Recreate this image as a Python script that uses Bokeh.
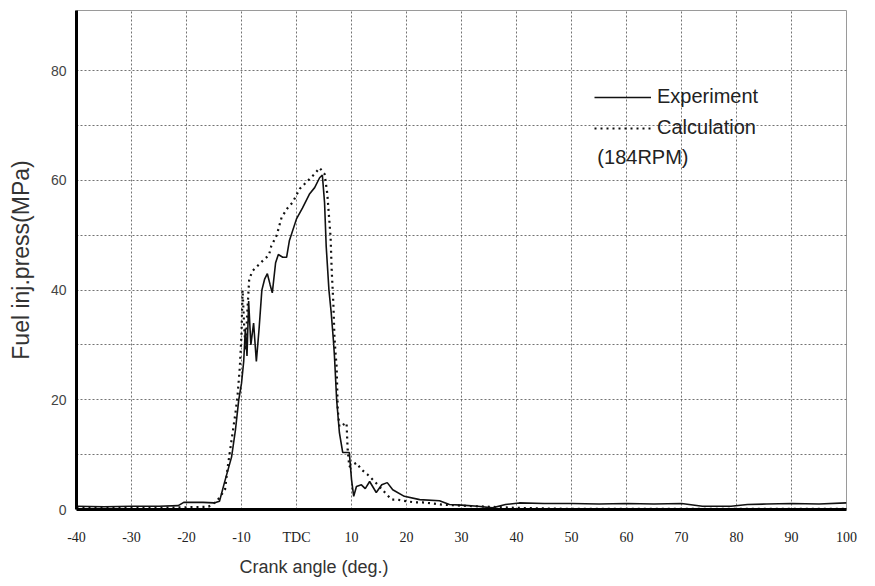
from bokeh.plotting import figure
from bokeh.models import Range1d, FixedTicker, Legend, LegendItem, Label, Title
from bokeh.embed import file_html
from bokeh.resources import INLINE

# Crank angle (deg.) and fuel injection pressure (MPa)
exp_x = [-40, -35, -30, -25, -21.5, -20.5, -17, -15, -14, -13.1, -11.8, -11.1, -10.5,
         -10.0, -9.6, -9.3, -9.0, -8.7, -8.3, -7.8, -7.3, -6.8, -6.3, -5.8, -5.3, -4.8,
         -4.4, -3.8, -3.3, -2.5, -1.8, -1.3, 0.0, 1.1, 2.4, 3.3, 4.2, 4.7, 5.1, 5.4,
         5.9, 6.3, 6.7, 6.9, 7.3, 7.8, 8.4, 9.6, 10.0, 10.4, 10.9, 11.8, 12.5, 13.3,
         14.5, 15.5, 16.5, 17.5, 19.6, 22.4, 26, 27.8, 30, 33, 35.6, 38, 40.5, 45, 50,
         55, 60, 65, 70, 73.8, 79, 82, 85.5, 90, 95, 100]
exp_y = [0.6, 0.5, 0.6, 0.6, 0.7, 1.3, 1.3, 1.2, 1.5, 4.9, 9.6, 14.5, 20,
         23, 27, 33, 28, 38, 30, 34, 27, 33, 40, 42, 43, 41,
         39.5, 45, 46.5, 46, 46, 49, 53, 55, 57.6, 58.7, 60.5, 61, 56, 48,
         40, 36, 31, 28, 20, 14, 10.4, 10.4, 5.5, 2.4, 4.2, 4.5, 3.8, 5.1,
         3.1, 4.5, 4.9, 3.6, 2.4, 1.8, 1.6, 0.9, 0.8, 0.6, 0.3, 0.9, 1.2, 1.1, 1.1,
         1.0, 1.1, 1.0, 1.1, 0.6, 0.6, 0.9, 1.0, 1.1, 1.0, 1.2]

calc_x = [-40, -30, -25, -20, -16, -14.5, -13, -12.5, -11.8, -11.1, -10.7, -10.3,
          -10.0, -9.8, -9.5, -9.2, -9.0, -8.6, -8.0, -7.0, -6.0, -5.0, -4.6, -3.6,
          -2.7, -1.6, -0.7, 0.6, 2.1, 3.3, 4.2, 5.1, 5.6, 6.2, 6.4, 6.7, 6.9, 7.1,
          7.3, 7.5, 7.8, 9.1, 9.3, 9.6, 10.9, 11.8, 12.9, 14.2, 15.6, 17.3, 18.4,
          20.0, 21.5, 22.9, 24.7, 26.4, 30, 35, 40, 50, 100]
calc_y = [0.3, 0.3, 0.3, 0.4, 0.5, 1.5, 3.6, 7.8, 12.7, 17.6, 21, 26,
          32, 40, 33, 29, 35, 42, 43.5, 44.5, 45.5, 46.4, 48, 50,
          53.3, 55, 56, 58.5, 60, 61.2, 62.3, 61.2, 57.6, 49.6, 43.6, 37.6, 31.5, 28.5,
          26, 18.2, 15.1, 15.8, 10.9, 7.8, 8.5, 7.3, 6.4, 5.1, 3.6, 1.8, 1.8,
          1.5, 1.3, 1.3, 1.1, 0.9, 0.7, 0.5, 0.3, 0.1, 0.1]

x_ticks = [-40, -30, -20, -10, 0, 10, 20, 30, 40, 50, 60, 70, 80, 90, 100]
x_tick_labels = ["-40", "-30", "-20", "-10", "TDC", "10", "20", "30", "40", "50",
                 "60", "70", "80", "90", "100"]
y_ticks = [0, 20, 40, 60, 80]
grid_x = [-30, -20, -10, 0, 10, 20, 30, 40, 50, 60, 70, 80, 90]
grid_y = [10, 20, 30, 40, 50, 60, 70, 80]

p = figure(width=870, height=584, output_backend="svg", toolbar_location=None,
           x_range=Range1d(-40, 100), y_range=Range1d(0, 91),
           min_border_left=76, min_border_right=24, min_border_top=10, min_border_bottom=75)
p.background_fill_color = "white"
p.border_fill_color = "white"
p.outline_line_color = "#9a9a9a"
p.outline_line_width = 1

# grid
p.xgrid.ticker = FixedTicker(ticks=grid_x)
p.ygrid.ticker = FixedTicker(ticks=grid_y)
for g in (p.xgrid, p.ygrid):
    g.grid_line_color = "#444444"
    g.grid_line_dash = "2 2"
    g.grid_line_width = 1
    g.grid_line_alpha = 0.75

# axes
p.xaxis.ticker = FixedTicker(ticks=x_ticks)
p.xaxis.major_label_overrides = {t: s for t, s in zip(x_ticks, x_tick_labels)}
p.yaxis.ticker = FixedTicker(ticks=y_ticks)
for ax in (p.xaxis, p.yaxis):
    ax.axis_line_color = "black"
    ax.axis_line_width = 3
    ax.major_tick_line_color = None
    ax.minor_tick_line_color = None
p.xaxis.major_label_text_font = "Liberation Serif"
p.xaxis.major_label_text_font_size = "14px"
p.xaxis.major_label_text_color = "#222222"
p.xaxis.major_label_standoff = 14
p.yaxis.major_label_text_font = "Liberation Sans"
p.yaxis.major_label_text_font_size = "14px"
p.yaxis.major_label_text_color = "#444444"
p.yaxis.major_label_standoff = 4

p.yaxis.axis_label = "Fuel inj.press(MPa)"
p.yaxis.axis_label_text_font = "Liberation Sans"
p.yaxis.axis_label_text_font_size = "23px"
p.yaxis.axis_label_text_font_style = "normal"
p.yaxis.axis_label_text_color = "#333333"
p.yaxis.axis_label_standoff = 14

# data
r_exp = p.line(exp_x, exp_y, line_color="#111111", line_width=1.6)
r_calc = p.line(calc_x, calc_y, line_color="#111111", line_width=2.2, line_dash="2 4")

legend = Legend(items=[LegendItem(label="Experiment", renderers=[r_exp]),
                       LegendItem(label="Calculation", renderers=[r_calc])],
                location=(518, 370), orientation="vertical",
                glyph_width=57, glyph_height=20, label_height=20, spacing=8,
                label_standoff=6, padding=0, margin=0,
                label_text_font="Liberation Sans", label_text_font_size="20px",
                label_text_color="#222222",
                background_fill_alpha=0, border_line_alpha=0)
p.add_layout(legend)

p.add_layout(Label(x=54.7, y=64.2, text="(184RPM)", text_font="Liberation Sans",
                   text_font_size="20px", text_color="#222222",
                   text_align="left", text_baseline="middle"))

# x axis title (left-offset as in the original)
p.add_layout(Title(text="Crank angle (deg.)", align="left", offset=163, standoff=15,
                   text_font="Liberation Sans", text_font_size="18px",
                   text_font_style="normal", text_color="#333333"), "below")

open("out.html", "w").write(file_html(p, INLINE))
